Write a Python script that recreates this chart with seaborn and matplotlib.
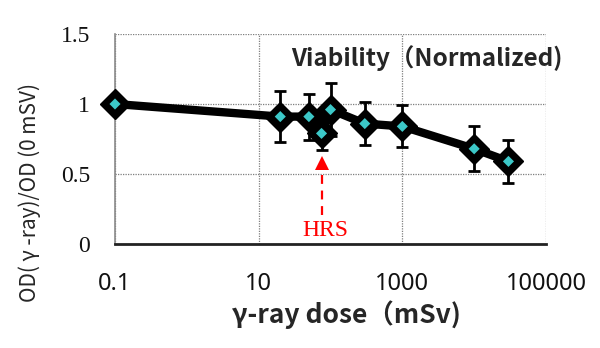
import matplotlib
matplotlib.use('Agg')
import matplotlib.pyplot as plt
import numpy as np
import pandas as pd
import seaborn as sns
from matplotlib.ticker import FixedLocator, FixedFormatter, NullLocator

# ---- data ----
dose = [0.1, 20, 50, 75, 100, 300, 1000, 10000, 30000]
viability = [1.0, 0.91, 0.91, 0.79, 0.96, 0.86, 0.84, 0.68, 0.59]
err = [0.0, 0.18, 0.165, 0.12, 0.19, 0.155, 0.15, 0.16, 0.155]
xticks = [0.1, 10, 1000, 100000]
xtick_labels = ['0.1', '10', '1000', '100000']
yticks = [0, 0.5, 1, 1.5]
ytick_labels = ['0', '0.5', '1', '1.5']
hrs_dose = 75
title_text = 'Viability（Normalized)'
xlabel_text = 'γ-ray dose（mSv)'
ylabel_text = 'OD( γ -ray)/OD (0 mSV)'

df = pd.DataFrame({'dose': dose, 'viability': viability, 'err': err})

sns.set_theme(style='white')
plt.rcParams['font.family'] = ['Noto Sans CJK JP', 'DejaVu Sans']

fig = plt.figure(figsize=(6, 3.48), dpi=100)
ax = fig.add_axes([115/600, 1 - 244/348, (546-115)/600, (244-34)/348])

ax.set_xscale('log')
ax.set_xlim(0.1, 100000)
ax.set_ylim(0, 1.5)

# grid
ax.xaxis.set_major_locator(FixedLocator(xticks))
ax.xaxis.set_major_formatter(FixedFormatter(xtick_labels))
ax.xaxis.set_minor_locator(NullLocator())
ax.yaxis.set_major_locator(FixedLocator(yticks))
ax.yaxis.set_major_formatter(FixedFormatter(ytick_labels))
ax.grid(True, which='major', color='#7f7f7f', linestyle=(0, (1, 1)), linewidth=0.9)
ax.set_axisbelow(True)

for s in ['top', 'right']:
    ax.spines[s].set_visible(False)
ax.spines['left'].set_color('#8a8a8a')
ax.spines['left'].set_linewidth(1.2)
ax.spines['bottom'].set_color('#222222')
ax.spines['bottom'].set_linewidth(2.0)

# error bars (behind markers)
eb = df[df['err'] > 0]
ax.errorbar(eb['dose'], eb['viability'], yerr=eb['err'], fmt='none',
            ecolor='black', elinewidth=2, capsize=4.2, capthick=2, zorder=2)

# line with big black diamonds
sns.lineplot(data=df, x='dose', y='viability', ax=ax, color='black', lw=6,
             marker='D', markersize=15, markerfacecolor='black',
             markeredgecolor='black', markeredgewidth=1, zorder=3,
             solid_joinstyle='round', estimator=None, sort=False, clip_on=False)
# cyan inner diamonds
sns.scatterplot(data=df, x='dose', y='viability', ax=ax, marker='D', s=32,
                color='#3cc8c8', edgecolor='none', zorder=4, clip_on=False)

# HRS arrow
ax.plot([hrs_dose, hrs_dose], [0.21, 0.54], color='red', lw=1.6,
        linestyle=(0, (4, 3)), zorder=3)
ax.plot([hrs_dose], [0.582], marker='^', markersize=10.5, color='red',
        markeredgewidth=0, zorder=3)
ax.text(hrs_dose * 1.12, 0.095, 'HRS', color='red', fontsize=17,
        family=['Liberation Serif'], ha='center', va='center')

# title inside plot
ax.text(2.2e3, 1.33, title_text, fontsize=17.5, fontweight='bold',
        ha='center', va='center', family=['Noto Sans CJK JP', 'DejaVu Sans'])

# tick labels
ax.tick_params(axis='x', length=0, pad=20, labelsize=17)
ax.tick_params(axis='y', length=0, pad=18, labelsize=17)
for lab in ax.get_xticklabels():
    lab.set_family(['Noto Sans', 'DejaVu Sans'])
    lab.set_color('#111111')
for lab in ax.get_yticklabels():
    lab.set_family(['Liberation Serif'])
    lab.set_color('#111111')

ax.set_xlabel(xlabel_text, fontsize=19, fontweight='bold',
              family=['Noto Sans CJK JP', 'DejaVu Sans'])
ax.xaxis.set_label_coords((346-115)/431, (244-315)/210)
ax.xaxis.label.set_va('center')
ax.set_ylabel(ylabel_text, fontsize=15,
              family=['Noto Sans CJK JP', 'DejaVu Sans'])
ax.yaxis.set_label_coords((30-115)/431, (244-192)/210)
ax.yaxis.label.set_va('center')

fig.savefig('out.png', dpi=100)
